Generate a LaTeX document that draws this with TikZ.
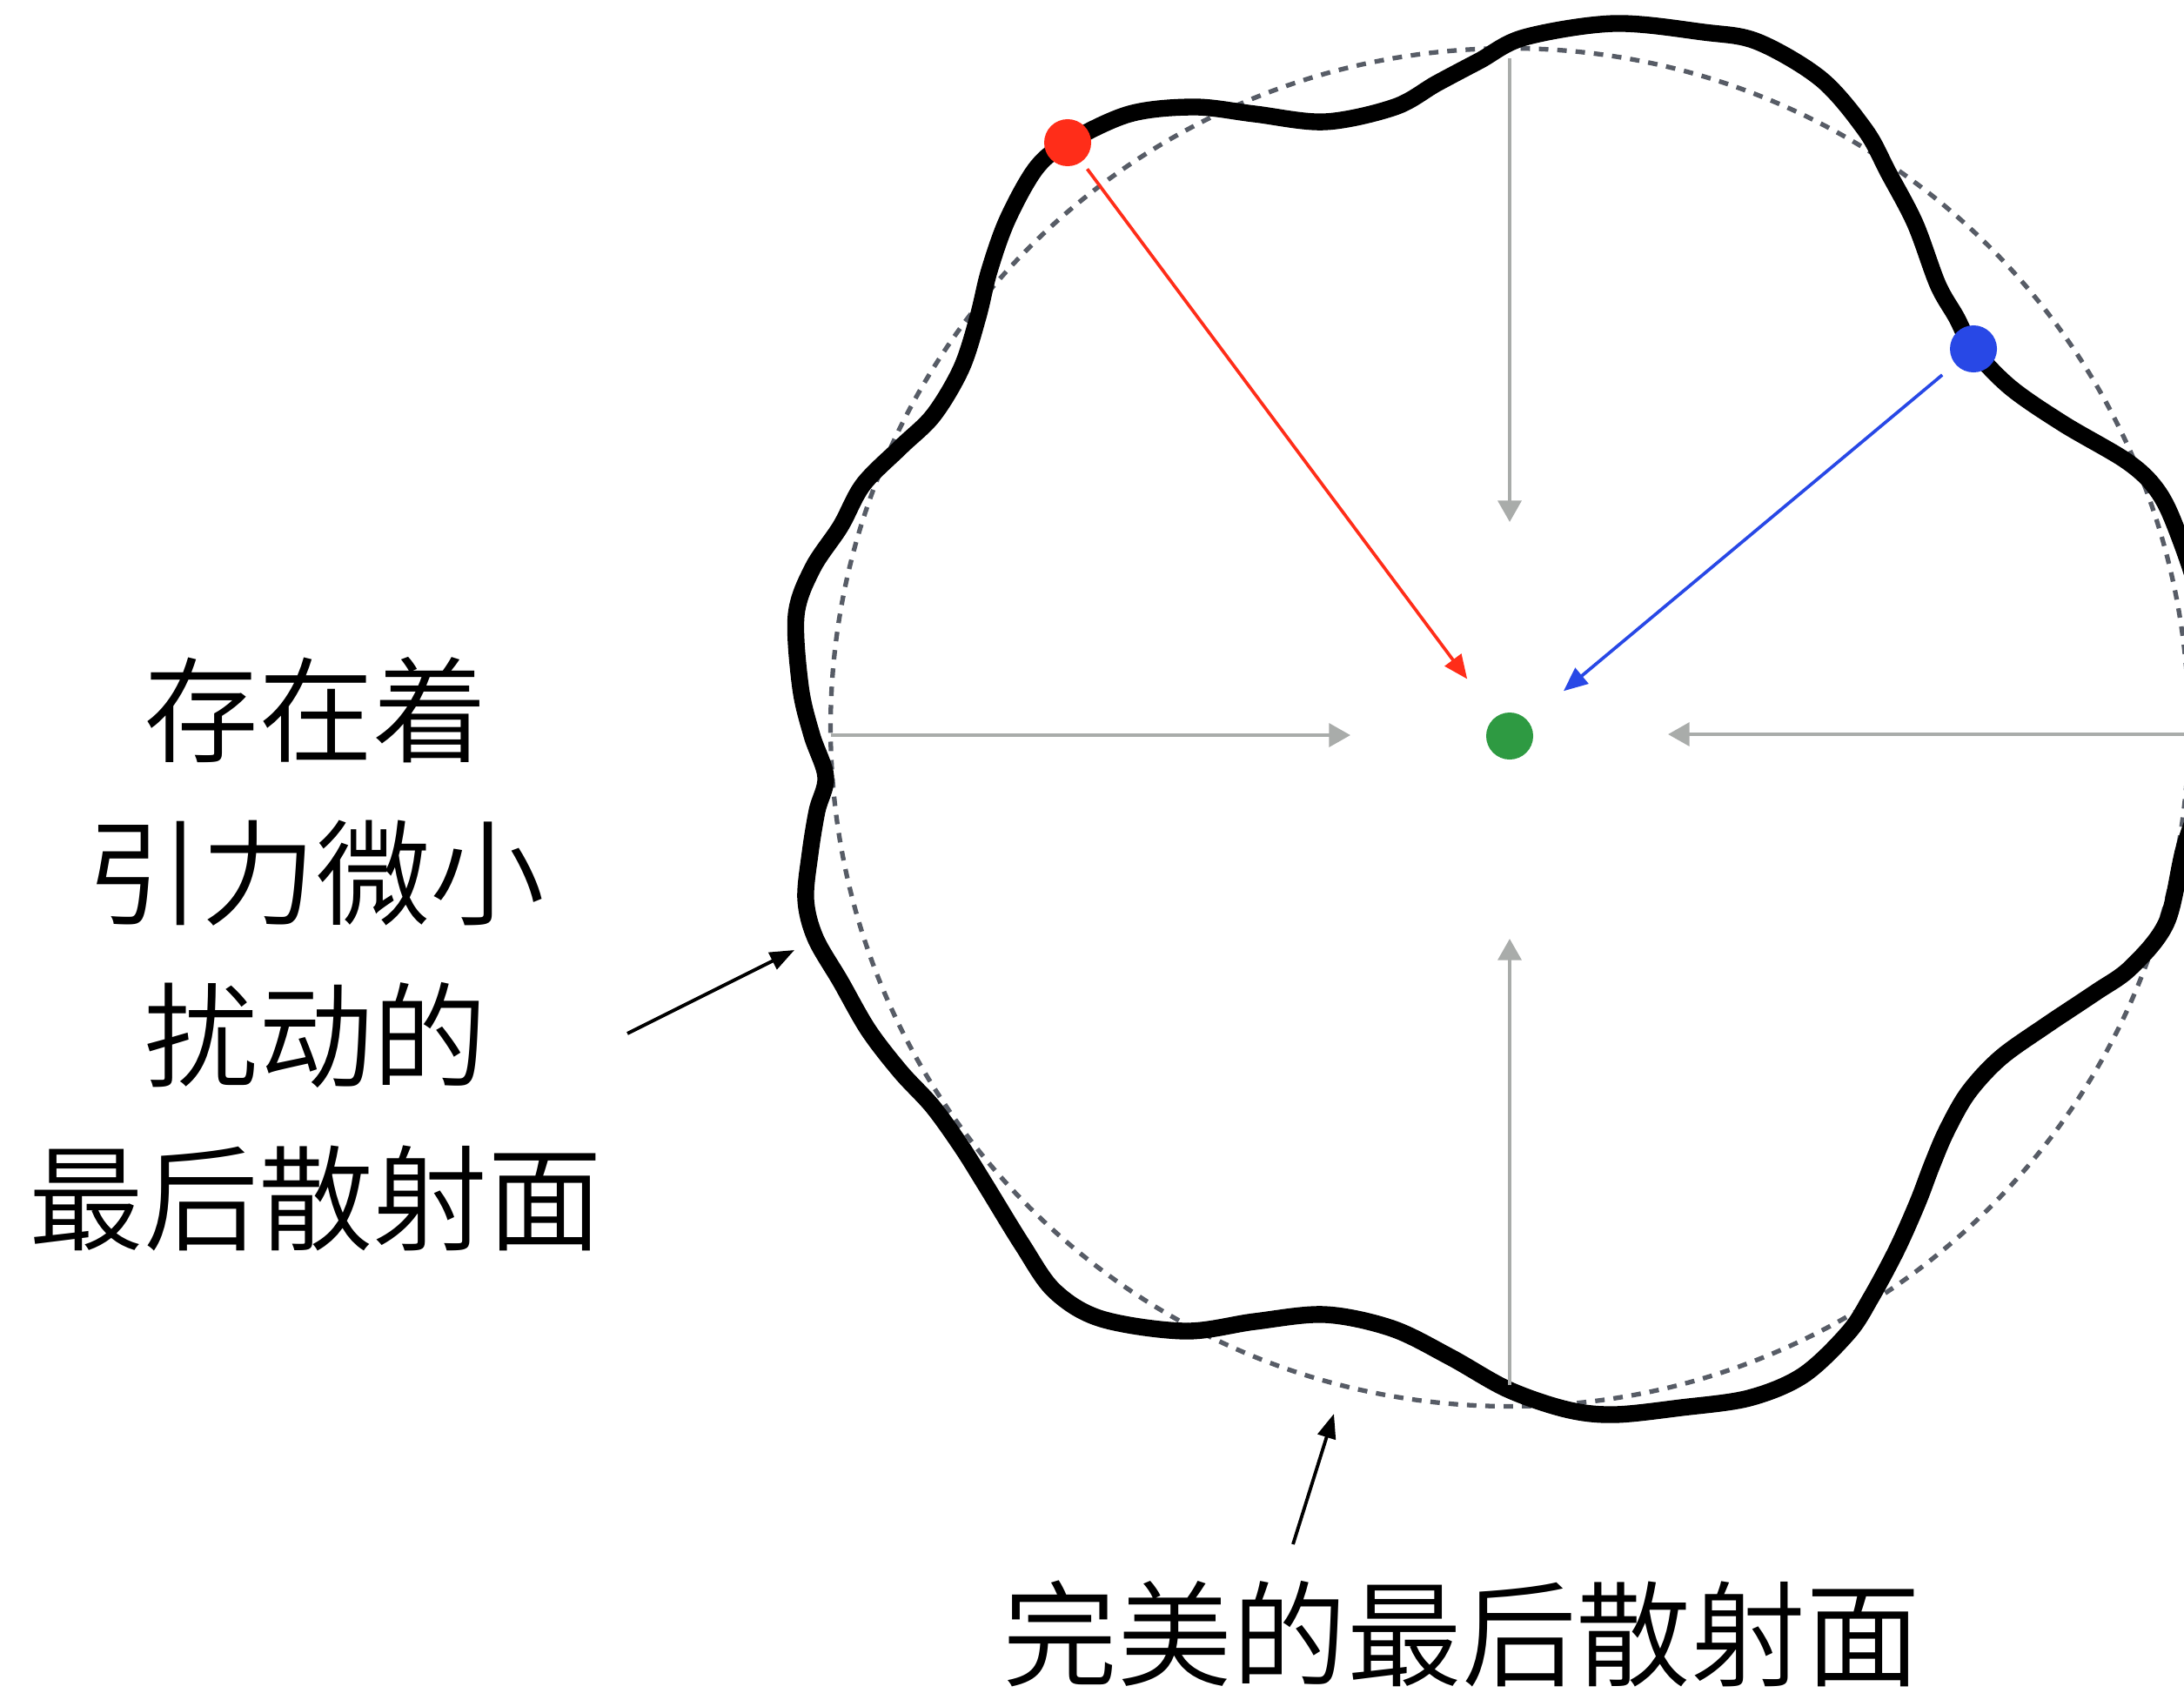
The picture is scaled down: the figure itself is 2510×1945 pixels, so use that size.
\documentclass[tikz,border=0pt]{standalone}
\usepackage{fontspec}
\newfontfamily\cjk{Noto Sans CJK SC DemiLight}
\usetikzlibrary{arrows.meta}
\definecolor{dashgrey}{HTML}{575C66}
\definecolor{arrowgrey}{HTML}{A9ACAA}
\definecolor{redpt}{HTML}{FF2D19}
\definecolor{bluept}{HTML}{2848E6}
\definecolor{greenpt}{HTML}{2E9A42}
\tikzset{
  wavy/.style={line width=5.5pt, black, line join=round},
  perfect/.style={line width=1.5pt, dashgrey, dash pattern=on 3.1pt off 2.9pt},
  greyarrow/.style={line width=1.2pt, arrowgrey, -{Triangle[length=7pt,width=7.6pt]}},
  redarrow/.style={line width=1.05pt, redpt, -{Triangle[length=7.8pt,width=6.6pt]}},
  bluearrow/.style={line width=1.05pt, bluept, -{Triangle[length=7.8pt,width=6.6pt]}},
  annot/.style={line width=1.1pt, black, -{Triangle[length=8pt,width=6pt]}},
  dot/.style={circle, inner sep=0pt, minimum size=0.54cm, draw=none},
  label/.style={font={\cjk\fontsize{37.5}{53.2}\selectfont}, align=center, inner sep=0pt},
}
\begin{document}
\begin{tikzpicture}[x=0.01cm, y=-0.01cm]
\useasboundingbox (0,0) rectangle (2510,1945);
\fill[white] (0,0) rectangle (2510,1945);
\begin{scope}
\clip (0,0) rectangle (2510,1945);
% perfect last scattering surface
\draw[perfect] (1735,836) circle[radius=7.8cm];
% perturbed last scattering surface
\draw[wavy] plot[smooth cycle, tension=0.55] coordinates {
 (1227,164) (1298,131) (1373,123) (1442,131) (1523,140) (1603,123)
 (1651,96) (1700,70) (1752,43) (1855,27) (1958,37) (2020,48) (2093,91)
 (2144,150) (2170,198) (2201,257) (2227,327) (2248,364) (2268,401)
 (2310,445) (2371,487) (2444,530) (2478,562) (2500,605)
 (2528,690) (2542,790) (2535,895) (2510,975)
 (2490,1060) (2449,1112) (2408,1141) (2351,1179) (2299,1216)
 (2262,1256) (2237,1300) (2220,1340) (2204,1382) (2180,1436)
 (2150,1492) (2124,1532) (2072,1581) (2010,1607) (1932,1618)
 (1855,1626) (1800,1620) (1733,1597) (1667,1560)
 (1600,1527) (1523,1511) (1442,1519) (1362,1530) (1266,1516)
 (1212,1484) (1175,1431) (1132,1361) (1105,1318) (1072,1272) (1035,1232)
 (998,1184) (966,1128) (937,1078) (926,1034) (931,981) (939,932)
 (949,893) (933,845) (920,790) (915,707) (934,653) (966,605) (992,557)
 (1035,514) (1073,477) (1105,423) (1124,364) (1137,311) (1158,252)
 (1191,193)
};
\end{scope}
% points
\node[dot, fill=greenpt] (gdot) at (1735,846) {};
\node[dot, fill=redpt] (rdot) at (1227,164) {};
\node[dot, fill=bluept] (bdot) at (2268,401) {};
% grey arrows
\coordinate (gtop) at (1735,67);
\coordinate (gtopend) at (1735,600);
\coordinate (gleft) at (955,845);
\coordinate (gleftend) at (1552,845);
\coordinate (gright) at (2510,844);
\coordinate (grightend) at (1917,844);
\coordinate (gbot) at (1735,1592);
\coordinate (gbotend) at (1735,1079);
\draw[greyarrow] (gtop) -- (gtopend);
\draw[greyarrow] (gleft) -- (gleftend);
\draw[greyarrow] (gright) -- (grightend);
\draw[greyarrow] (gbot) -- (gbotend);
% coloured arrows
\draw[redarrow, shorten <=0.1cm, shorten >=0.54cm] (rdot) -- (gdot);
\draw[bluearrow, shorten <=0.19cm, shorten >=0.53cm] (bdot) -- (gdot);
% labels
\node[label] (lefttext) at (363,1097) {存在着\\引力微小\\扰动的\\最后散射面};
\node[label, anchor=base] (bottomtext) at (1680,1928) {完美的最后散射面};
\coordinate (la0) at (721,1188);
\coordinate (la1) at (913,1092);
\draw[annot] (la0) -- (la1);
\coordinate (ba0) at (1486,1775);
\coordinate (ba1) at (1533,1625);
\draw[annot] (ba0) -- (ba1);
\end{tikzpicture}
\end{document}
